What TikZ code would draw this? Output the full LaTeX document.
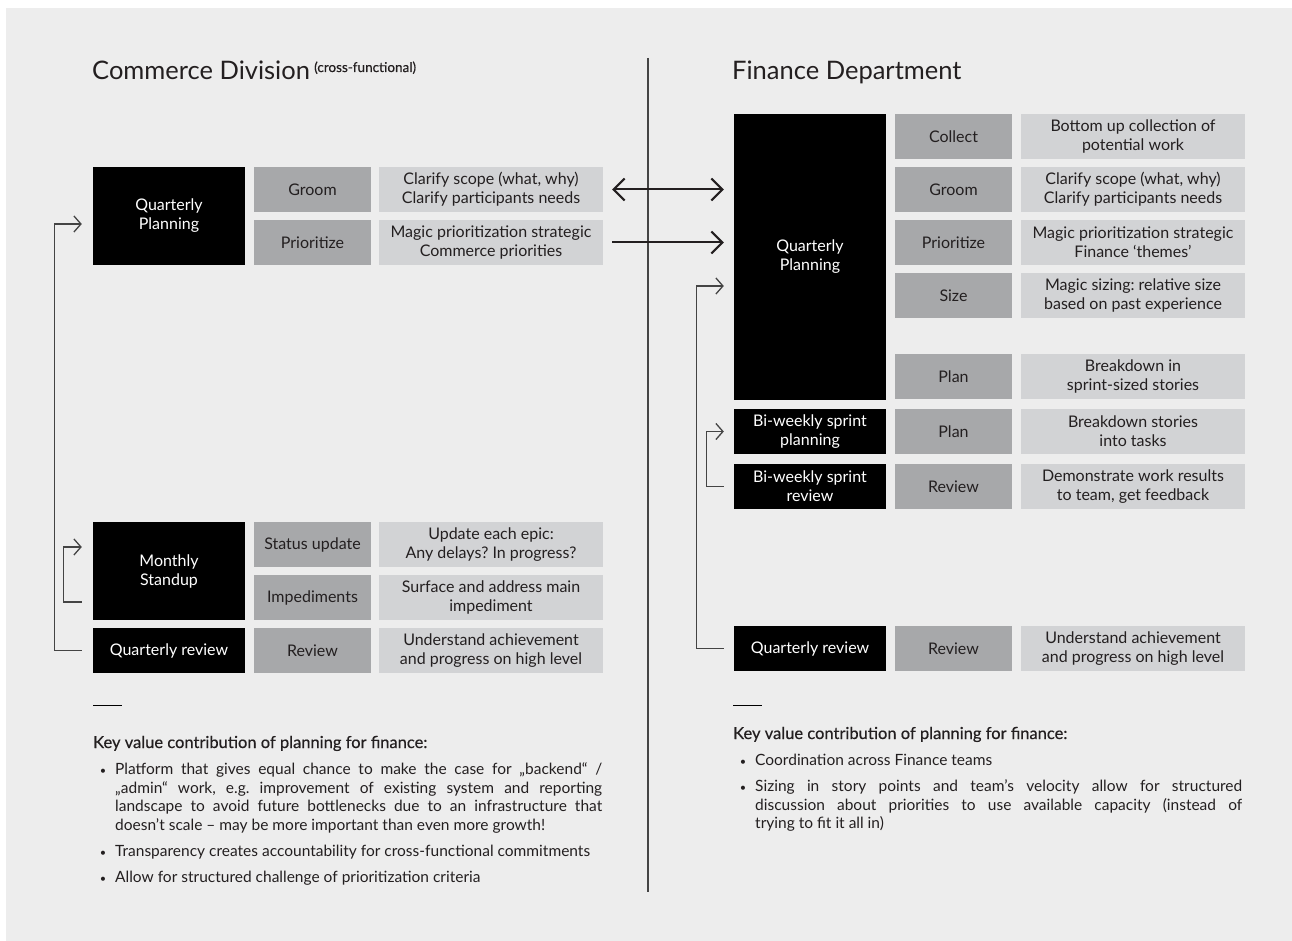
\documentclass[tikz,border=0pt]{standalone}
\usepackage{fontspec}
\setmainfont{Lato}
\newfontfamily\keyfont[FakeBold=0.4]{Lato}
\usepackage{enumitem}
\usetikzlibrary{arrows.meta}
\definecolor{panel}{HTML}{EDEDED}
\definecolor{actgray}{HTML}{A7A8AA}
\definecolor{descgray}{HTML}{D2D3D5}
\definecolor{ink}{HTML}{231F20}
\definecolor{rulegray}{HTML}{444444}
\frenchspacing
\begin{document}
\begin{tikzpicture}[x=1pt,y=-1pt,
  every node/.style={text=ink},
  box/.style={inner sep=0pt, minimum height=45pt, align=center, font=\fontsize{16}{19}\selectfont},
  blk/.style={box, fill=black, text=white, minimum width=152pt},
  act/.style={box, fill=actgray, minimum width=117pt},
  desc/.style={box, fill=descgray, minimum width=224pt},
  big/.style={line width=2pt, ink, >={Straight Barb[length=11pt,width=22pt]}},
  fb/.style={line width=1.3pt, rulegray, -{Straight Barb[length=7pt,width=16pt]}},
  keylist/.style={anchor=north west, inner sep=0pt, text width=509pt, align=justify, font=\fontsize{15.5}{18.5}\selectfont}]
  \useasboundingbox (0,0) rectangle (1292,941);
  \fill[white] (0,0) rectangle (1292,941);
  \fill[panel] (6,8) rectangle (1292,941);
  \draw[line width=2pt, rulegray] (648,58) -- (648,892);

  \node[anchor=base west, inner xsep=0pt, font=\fontsize{25.5}{30}\selectfont] (ltitle) at (92,80)
    {Commerce Division\,\raisebox{8pt}{\keyfont\fontsize{13.5}{15}\selectfont(cross-functional)}};
  \node[anchor=base west, inner xsep=0pt, font=\fontsize{25.5}{30}\selectfont] (rtitle) at (732,80) {Finance Department};

  \node[blk, minimum height=98pt] (lqp) at (169,216) {Quarterly\\Planning};
  \node[act] (lgroom) at (312.5,189.5) {Groom};
  \node[desc] (lgroomd) at (491,189.5) {Clarify scope (what, why)\\Clarify participants needs};
  \node[act] (lprio) at (312.5,242.5) {Prioritize};
  \node[desc] (lpriod) at (491,242.5) {Magic prioritization strategic\\Commerce priorities};
  \node[blk, minimum height=98pt] (lms) at (169,571) {Monthly\\Standup};
  \node[act] (lstat) at (312.5,544.5) {Status update};
  \node[desc] (lstatd) at (491,544.5) {Update each epic:\\Any delays? In progress?};
  \node[act] (limp) at (312.5,597.5) {Impediments};
  \node[desc] (limpd) at (491,597.5) {Surface and address main\\impediment};
  \node[blk] (lqr) at (169,650.5) {Quarterly review};
  \node[act] (lrev) at (312.5,650.5) {Review};
  \node[desc] (lrevd) at (491,650.5) {Understand achievement\\and progress on high level};

  \node[blk, minimum height=286pt] (rqp) at (810,257) {Quarterly\\Planning};
  \node[act] (rcoll) at (953.5,136.5) {Collect};
  \node[desc] (rcolld) at (1133,136.5) {Bottom up collection of\\potential work};
  \node[act] (rgroom) at (953.5,189.5) {Groom};
  \node[desc] (rgroomd) at (1133,189.5) {Clarify scope (what, why)\\Clarify participants needs};
  \node[act] (rprio) at (953.5,242.5) {Prioritize};
  \node[desc] (rpriod) at (1133,242.5) {Magic prioritization strategic\\Finance ‘themes’};
  \node[act] (rsize) at (953.5,295.5) {Size};
  \node[desc] (rsized) at (1133,295.5) {Magic sizing: relative size\\based on past experience};
  \node[act] (rplan) at (953.5,376.5) {Plan};
  \node[desc] (rpland) at (1133,376.5) {Breakdown in\\sprint-sized stories};
  \node[blk] (rsplan) at (810,431.5) {Bi-weekly sprint\\planning};
  \node[act] (rtask) at (953.5,431.5) {Plan};
  \node[desc] (rtaskd) at (1133,431.5) {Breakdown stories\\into tasks};
  \node[blk] (rsrev) at (810,486.5) {Bi-weekly sprint\\review};
  \node[act] (rdemo) at (953.5,486.5) {Review};
  \node[desc] (rdemod) at (1133,486.5) {Demonstrate work results\\to team, get feedback};
  \node[blk] (rqr) at (810,648.5) {Quarterly review};
  \node[act] (rrev) at (953.5,648.5) {Review};
  \node[desc] (rrevd) at (1133,648.5) {Understand achievement\\and progress on high level};

  \draw[big, <->, shorten <=9pt, shorten >=10pt] (lgroomd.east) -- (lgroomd.east -| rqp.west);
  \draw[big, ->, shorten <=9pt, shorten >=10pt] (lpriod.east) -- (lpriod.east -| rqp.west);

  \draw[fb] ([xshift=-11pt]lqr.west) -- ++(-27,0) |- ([xshift=-11pt,yshift=-8pt]lqp.west);
  \draw[fb] ([xshift=-11pt,yshift=-31pt]lms.west) -- ++(-18,0) |- ([xshift=-11pt,yshift=24pt]lms.west);
  \draw[fb] ([xshift=-10pt]rqr.west) -- ++(-27,0) |- ([xshift=-10pt,yshift=-29pt]rqp.west);
  \draw[fb] ([xshift=-10pt]rsrev.west) -- ++(-17,0) |- ([xshift=-10pt]rsplan.west);

  \draw[line width=1pt] (93,705) -- (122,705);
  \draw[line width=1pt] (733,705) -- (762,705);
  \node[anchor=base west, inner xsep=0pt, font=\keyfont\fontsize{16.5}{19}\selectfont] (lkey) at (93,748) {Key value contribution of planning for finance:};
  \node[anchor=base west, inner xsep=0pt, font=\keyfont\fontsize{16.5}{19}\selectfont] (rkey) at (733,739) {Key value contribution of planning for finance:};

  \node[keylist] (llist) at (93,756) {%
    \begin{itemize}[leftmargin=22pt, labelsep=9pt, itemsep=7.5pt, topsep=0pt, parsep=0pt, partopsep=0pt, label={\fontsize{11}{11}\selectfont\textbullet}]
    \item Platform that gives equal chance to make the case for „backend“ /\linebreak
      „admin“ work, e.g. improvement of existing system and reporting\linebreak
      landscape to avoid future bottlenecks due to an infrastructure that\linebreak
      doesn’t scale – may be more important than even more growth!
    \item Transparency creates accountability for cross-functional commitments
    \item Allow for structured challenge of prioritization criteria
    \end{itemize}};
  \node[keylist] (rlist) at (733,747) {%
    \begin{itemize}[leftmargin=22pt, labelsep=9pt, itemsep=7.5pt, topsep=0pt, parsep=0pt, partopsep=0pt, label={\fontsize{11}{11}\selectfont\textbullet}]
    \item Coordination across Finance teams
    \item Sizing in story points and team’s velocity allow for structured\linebreak
      discussion about priorities to use available capacity (instead of\linebreak
      trying to fit it all in)
    \end{itemize}};
\end{tikzpicture}
\end{document}
